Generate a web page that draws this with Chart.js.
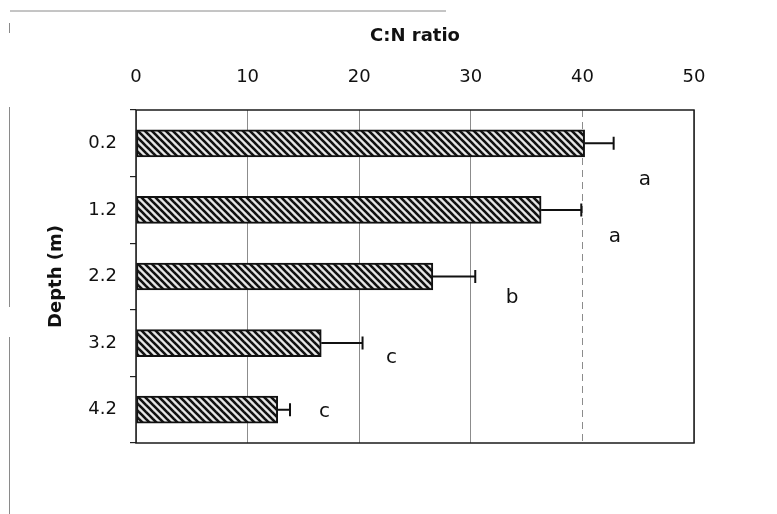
<!DOCTYPE html>
<html>
<head>
<meta charset="utf-8">
<script src="https://cdn.jsdelivr.net/npm/chart.js@4"></script>
<style>
  html, body { margin: 0; padding: 0; background: #fff; }
  #wrap { width: 777px; height: 514px; position: relative; }
</style>
</head>
<body>
<div id="wrap"><canvas id="cnChart"></canvas></div>
<script>
// depth categories and C:N values
const depths = ['0.2', '1.2', '2.2', '3.2', '4.2'];
const cnRatio = [40.2, 36.3, 26.6, 16.6, 12.7];
const cnError = [2.6, 3.6, 3.8, 3.7, 1.1];
// significance letters, placed in data units (value, category row)
const letters = ['a', 'a', 'b', 'c', 'c'];
const letterValue = [45.6, 42.9, 33.7, 22.9, 16.9];
const letterRow = [0.55, 1.41, 2.32, 3.22, 4.03];
const xTicks = [0, 10, 20, 30, 40, 50];

const FONT = '"DejaVu Sans", Verdana, sans-serif';

function hatchPattern() {
  const s = 7;
  const c = document.createElement('canvas');
  c.width = s; c.height = s;
  const g = c.getContext('2d');
  g.fillStyle = '#e6e6e6';
  g.fillRect(0, 0, s, s);
  g.strokeStyle = '#111';
  g.lineWidth = 2.6;
  for (let k = -1; k <= 1; k++) {
    g.beginPath();
    g.moveTo(-1, k * s - 1);
    g.lineTo(s + 1, s + k * s + 1);
    g.stroke();
  }
  return g.createPattern(c, 'repeat');
}

// error bars, letters, plot frame and scan frame lines
const extras = {
  id: 'extras',
  afterDatasetsDraw(chart) {
    const ctx = chart.ctx;
    const x = chart.scales.x, y = chart.scales.y;
    ctx.save();
    ctx.strokeStyle = '#111';
    ctx.lineWidth = 2;
    cnRatio.forEach((v, i) => {
      const yc = y.getPixelForValue(i);
      const x0 = x.getPixelForValue(v);
      const x1 = x.getPixelForValue(v + cnError[i]);
      ctx.beginPath();
      ctx.moveTo(x0, yc); ctx.lineTo(x1, yc);
      ctx.moveTo(x1, yc - 6.5); ctx.lineTo(x1, yc + 6.5);
      ctx.stroke();
    });

    ctx.fillStyle = '#111';
    ctx.font = '20px ' + FONT;
    ctx.textAlign = 'center';
    ctx.textBaseline = 'middle';
    letters.forEach((t, i) => {
      ctx.fillText(t, x.getPixelForValue(letterValue[i]), y.getPixelForValue(letterRow[i]));
    });

    const a = chart.chartArea;
    ctx.strokeStyle = '#1a1a1a';
    ctx.lineWidth = 1.5;
    ctx.strokeRect(a.left, a.top, a.right - a.left, a.bottom - a.top);

    ctx.strokeStyle = '#8a8a8a';
    ctx.lineWidth = 1;
    ctx.beginPath();
    ctx.moveTo(10, 11); ctx.lineTo(446, 11);
    ctx.moveTo(9.5, 23); ctx.lineTo(9.5, 33);
    ctx.moveTo(9.5, 107); ctx.lineTo(9.5, 307);
    ctx.moveTo(9.5, 337); ctx.lineTo(9.5, 514);
    ctx.stroke();
    ctx.restore();
  }
};

const ctx = document.getElementById('cnChart').getContext('2d');
new Chart(ctx, {
  type: 'bar',
  data: {
    labels: depths,
    datasets: [{
      label: 'C:N ratio',
      data: cnRatio,
      backgroundColor: hatchPattern(),
      borderColor: '#111',
      borderWidth: 2,
      borderSkipped: false,
      barThickness: 27
    }]
  },
  options: {
    indexAxis: 'y',
    responsive: true,
    maintainAspectRatio: false,
    animation: false,
    layout: { padding: { left: 0, top: 0, right: 83, bottom: 71 } },
    plugins: {
      legend: { display: false },
      tooltip: { enabled: false }
    },
    scales: {
      x: {
        position: 'top',
        min: 0,
        max: 50,
        afterFit(scale) { scale.height = 110; },
        afterBuildTicks(scale) { scale.ticks = xTicks.map(v => ({ value: v })); },
        ticks: {
          padding: 22,
          color: '#111',
          font: { family: FONT, size: 18 }
        },
        grid: { color: '#8c8c8c', lineWidth: 1, tickLength: 0 },
        border: {
          display: false,
          dash: c => (c.tick && c.tick.value === 40 ? [7, 5] : [])
        },
        title: {
          display: true,
          text: 'C:N ratio',
          color: '#111',
          font: { family: FONT, size: 18, weight: 'bold' },
          padding: { top: 26, bottom: 0 }
        }
      },
      y: {
        afterFit(scale) { scale.width = 136; },
        ticks: {
          padding: 13,
          color: '#111',
          font: { family: FONT, size: 18 }
        },
        grid: {
          offset: true,
          drawOnChartArea: false,
          tickLength: 6,
          color: '#222',
          lineWidth: 1.2
        },
        border: { display: false },
        title: {
          display: true,
          text: 'Depth (m)',
          color: '#111',
          font: { family: FONT, size: 18, weight: 'bold' },
          padding: { top: 46, bottom: 0 }
        }
      }
    }
  },
  plugins: [extras]
});
</script>
</body>
</html>
